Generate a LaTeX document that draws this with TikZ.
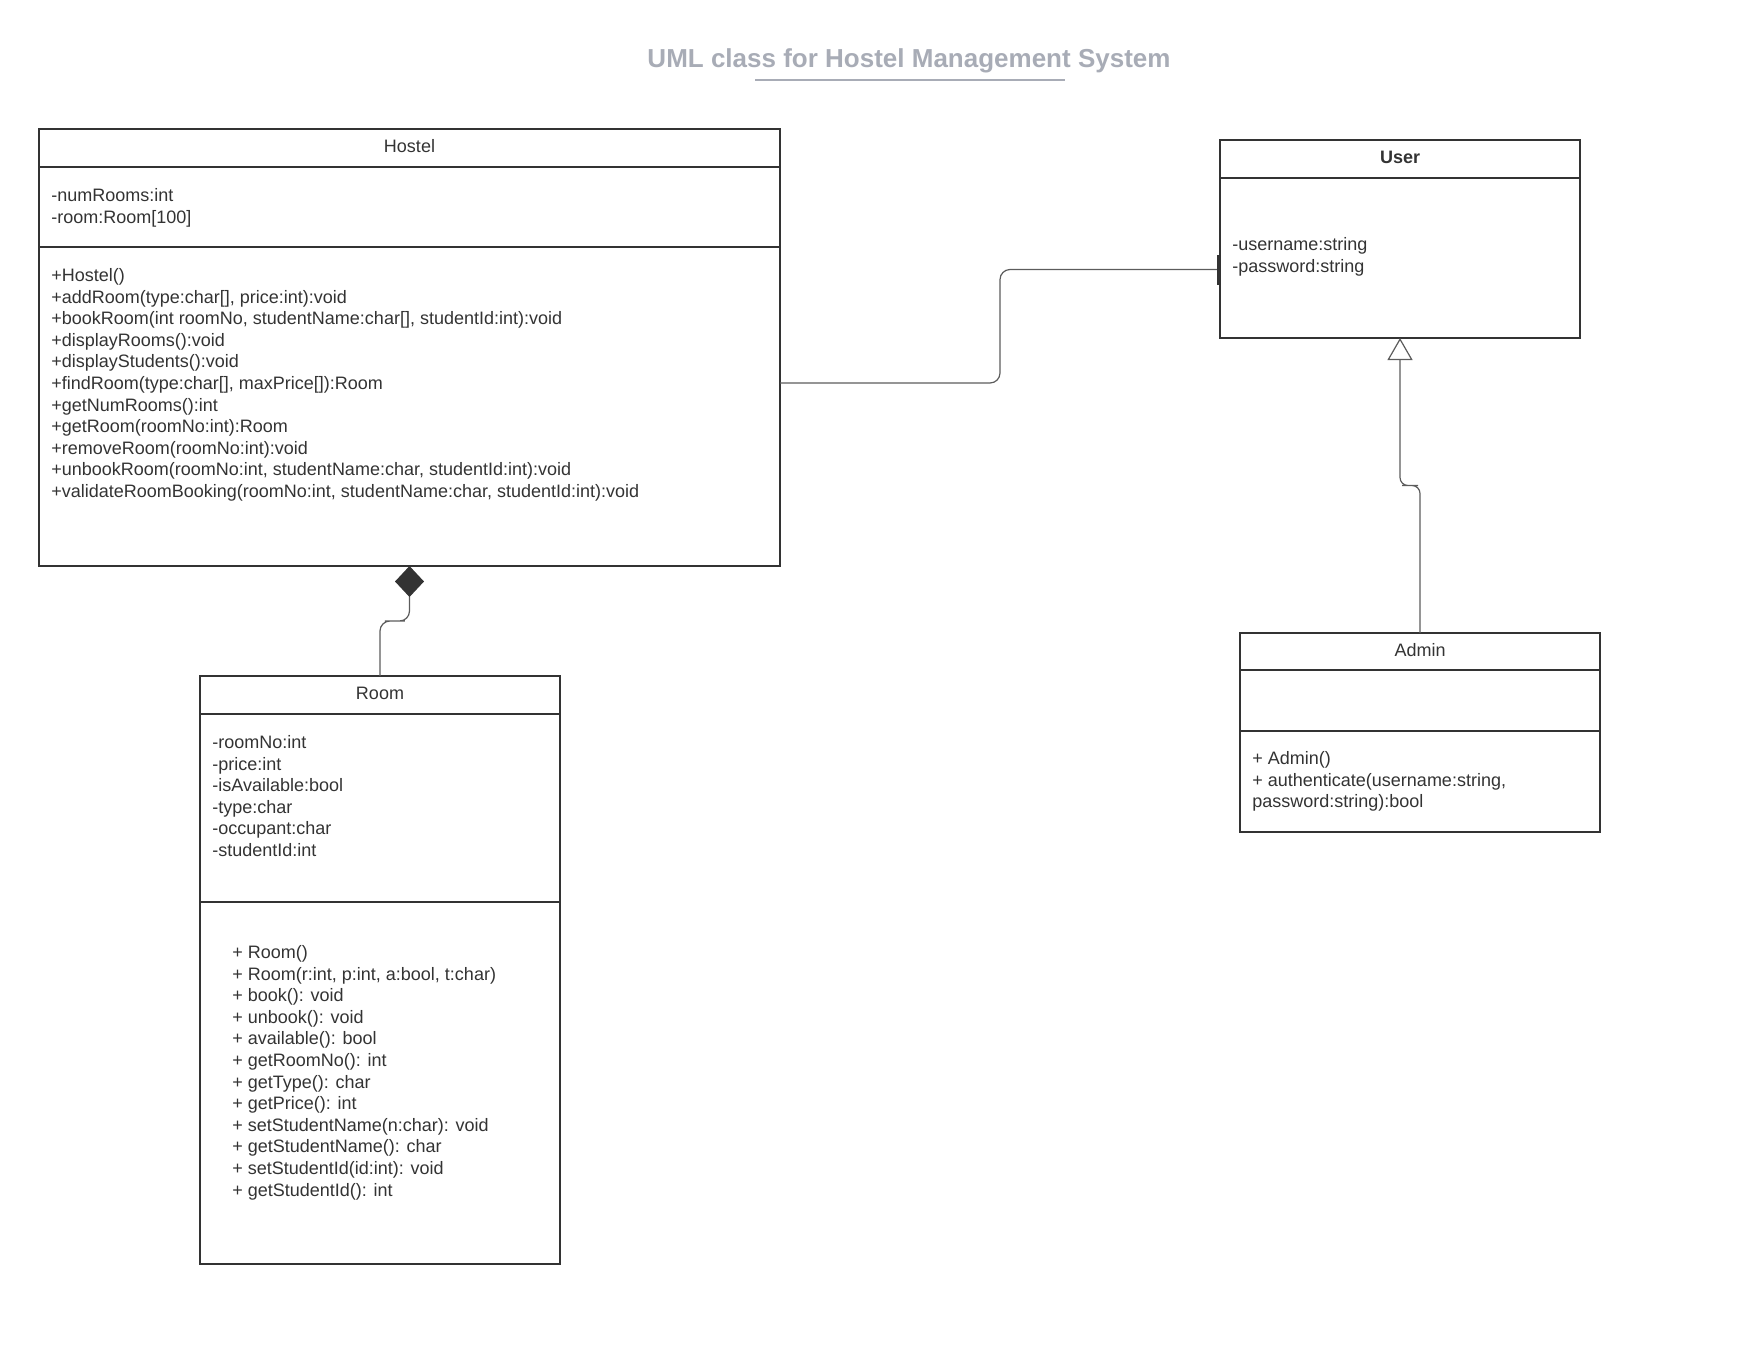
\documentclass[tikz,border=0pt]{standalone}
\usepackage{fontspec}
\setmainfont{Liberation Sans}
\usepackage{tikz}
\usetikzlibrary{positioning,arrows.meta,calc}

\definecolor{ink}{HTML}{333333}
\definecolor{wire}{HTML}{5C5C5C}
\definecolor{titlegray}{RGB}{168,172,182}

\tikzset{
  umlpart/.style={draw=ink, line width=1pt, rectangle, inner sep=0pt, outer sep=0pt,
    minimum width=180pt, text depth=2pt, text=ink, font=\fontsize{9}{10.8}\selectfont},
  members/.style={align=left, inner sep=0pt, text=ink, font=\fontsize{9}{10.8}\selectfont},
  conn/.style={draw=wire, line width=0.6pt, rounded corners=5pt}
}

\begin{document}
\begin{tikzpicture}[x=0.5pt, y=-0.5pt]
    \useasboundingbox (0,0) rectangle (1760,1360);

    % title
    \node[text=titlegray, font=\fontsize{13}{15.6}\selectfont\bfseries] (title) at (909,61)
        {UML class for Hostel Management System};
    \draw[titlegray, line width=1pt] (755,80) -- (1065,80);

    % Hostel
    \node[umlpart, anchor=north west, minimum width=370.5pt, minimum height=19pt] (hostel) at (39,129) {Hostel};
    \node[umlpart, below=0pt of hostel, minimum width=370.5pt, minimum height=40pt] (hostelattr) {};
    \node[umlpart, below=0pt of hostelattr, minimum width=370.5pt, minimum height=159.5pt] (hostelops) {};
    \node[members, below right=10.5pt and 6pt of hostelattr.north west] (hostelattrtext)
        {-numRooms:int\\-room:Room[100]};
    \node[members, below right=10.5pt and 6pt of hostelops.north west] (hostelopstext)
        {+Hostel()\\+addRoom(type:char[], price:int):void\\
         +bookRoom(int roomNo, studentName:char[], studentId:int):void\\
         +displayRooms():void\\+displayStudents():void\\
         +findRoom(type:char[], maxPrice[]):Room\\+getNumRooms():int\\
         +getRoom(roomNo:int):Room\\+removeRoom(roomNo:int):void\\
         +unbookRoom(roomNo:int, studentName:char, studentId:int):void\\
         +validateRoomBooking(roomNo:int, studentName:char, studentId:int):void};

    % Room
    \node[umlpart, anchor=north west, minimum height=19pt] (room) at (200,676) {Room};
    \node[umlpart, below=0pt of room, minimum height=94pt] (roomattr) {};
    \node[umlpart, below=0pt of roomattr, minimum height=181pt] (roomops) {};
    \node[members, below right=10.5pt and 6pt of roomattr.north west] (roomattrtext)
        {-roomNo:int\\-price:int\\-isAvailable:bool\\-type:char\\-occupant:char\\-studentId:int};
    \node[members, below right=21.5pt and 16pt of roomops.north west] (roomopstext)
        {+ Room()\\+ Room(r:int, p:int, a:bool, t:char)\\+ book(): void\\+ unbook(): void\\
         + available(): bool\\+ getRoomNo(): int\\+ getType(): char\\+ getPrice(): int\\
         + setStudentName(n:char): void\\+ getStudentName(): char\\
         + setStudentId(id:int): void\\+ getStudentId(): int};

    % User
    \node[umlpart, anchor=north west, minimum height=19pt] (user) at (1220,140) {\bfseries User};
    \node[umlpart, below=0pt of user, minimum height=80pt] (userattr) {};
    \node[members, below right=29.5pt and 6pt of userattr.north west] (userattrtext)
        {-username:string\\-password:string};

    % Admin
    \node[umlpart, anchor=north west, minimum height=18.5pt] (admin) at (1240,633) {Admin};
    \node[umlpart, below=0pt of admin, minimum height=30.5pt] (adminattr) {};
    \node[umlpart, below=0pt of adminattr, minimum height=50.5pt] (adminops) {};
    \node[members, below right=10pt and 6pt of adminops.north west] (adminopstext)
        {+ Admin()\\+ authenticate(username:string,\\password:string):bool};

    % relations
    \coordinate (hostelend) at ([yshift=11.75pt]hostelops.east);
    \coordinate (userend) at ([yshift=-5.75pt]userattr.west);
    \draw[conn, -{Bar[width=15pt, line width=1.3pt, ink]}]
        (hostelend) -| ($(hostelend)!.5!(userend)$) |- (userend);
    \draw[conn, {Diamond[length=15.5pt, width=14.5pt, ink]}-]
        (hostelops.south) |- ($(hostelops.south)!.5!(room.north)$) -| (room.north);
    \draw[conn, rounded corners=4pt, -{Triangle[open, length=11pt, width=12.5pt, fill=white]}]
        (admin.north) |- ($(admin.north)!.5!(userattr.south)$) -| (userattr.south);
\end{tikzpicture}
\end{document}
